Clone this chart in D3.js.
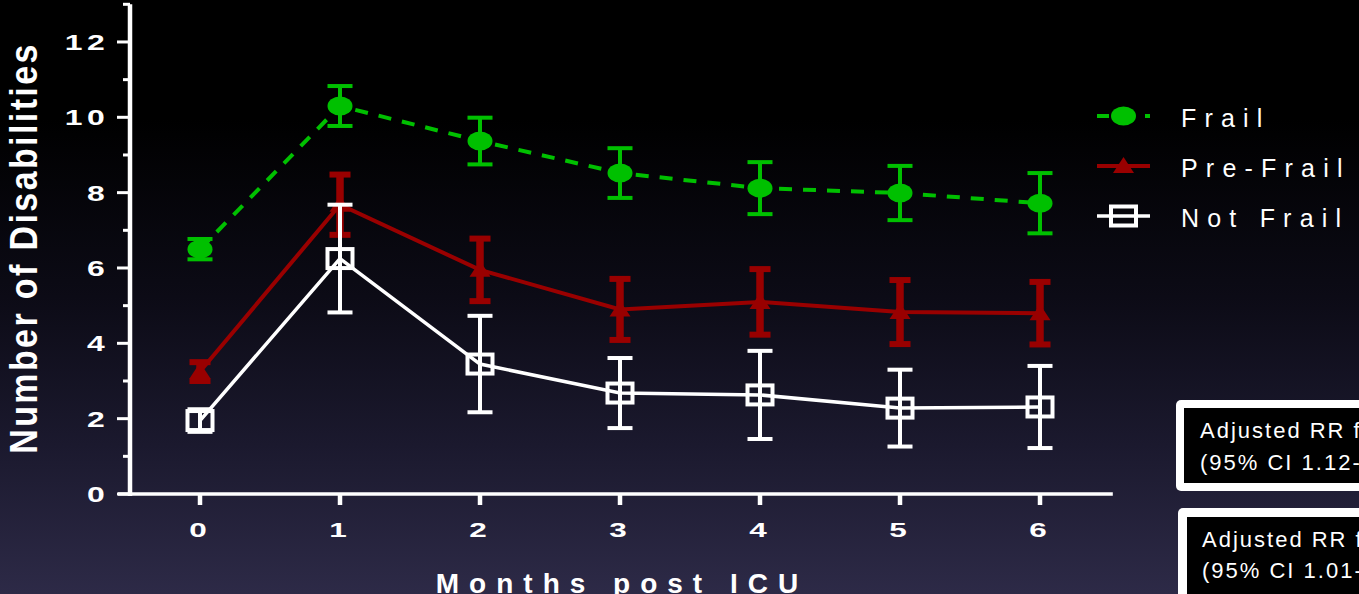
<!DOCTYPE html>
<html>
<head>
<meta charset="utf-8">
<script src="https://cdn.jsdelivr.net/npm/d3@7"></script>
<style>
  html, body { margin: 0; padding: 0; overflow: hidden; background: #000; }
  text { font-family: "Liberation Sans", Arial, sans-serif; }
</style>
</head>
<body>
<div id="chart"></div>
<script>
const months = [0, 1, 2, 3, 4, 5, 6];
const frailMean = [6.5, 10.3, 9.37, 8.52, 8.12, 7.99, 7.72];
const frailErr = [0.27, 0.53, 0.62, 0.66, 0.69, 0.72, 0.8];
const preFrailMean = [3.25, 7.68, 5.95, 4.9, 5.1, 4.83, 4.8];
const preFrailErr = [0.25, 0.8, 0.83, 0.81, 0.87, 0.85, 0.83];
const notFrailMean = [1.95, 6.25, 3.45, 2.68, 2.63, 2.28, 2.31];
const notFrailErr = [0.3, 1.43, 1.28, 0.93, 1.17, 1.02, 1.09];
const yTicks = [0, 2, 4, 6, 8, 10, 12];
const yMinorTicks = [1, 3, 5, 7, 9, 11, 13];
const legendLabels = ['Frail', 'Pre-Frail', 'Not Frail'];
const boxTexts = [
  ['Adjusted RR for', '(95% CI 1.12-'],
  ['Adjusted RR for', '(95% CI 1.01-']
];

const width = 1359, height = 594;
const svg = d3.select('#chart').append('svg')
  .attr('width', width).attr('height', height);

// background gradient
const grad = svg.append('defs').append('linearGradient')
  .attr('id', 'bg').attr('x1', 0).attr('y1', 0).attr('x2', 0).attr('y2', 1);
[[0, '#000000'], [0.2, '#000000'], [0.5, '#0c0b16'], [0.75, '#1b192e'], [1, '#2d2a47']]
  .forEach(([o, c]) => grad.append('stop').attr('offset', o).attr('stop-color', c));
svg.append('rect').attr('width', width).attr('height', height).attr('fill', 'url(#bg)');

const x = d3.scaleLinear().domain([0, 6]).range([200, 1040]);
const y = d3.scaleLinear().domain([0, 13]).range([494, 4.3]);

// axes
const axisG = svg.append('g').attr('stroke', '#fff');
axisG.append('line').attr('x1', 130).attr('x2', 130).attr('y1', y(13)).attr('y2', y(0) + 2)
  .attr('stroke-width', 4.5);
axisG.append('line').attr('x1', 118).attr('x2', x(6.52)).attr('y1', y(0)).attr('y2', y(0))
  .attr('stroke-width', 3.5);
axisG.selectAll('.ymaj').data(yTicks).join('line')
  .attr('x1', 117).attr('x2', 130).attr('y1', (d) => y(d)).attr('y2', (d) => y(d))
  .attr('stroke-width', 3);
axisG.selectAll('.ymin').data(yMinorTicks).join('line')
  .attr('x1', 123).attr('x2', 130).attr('y1', (d) => y(d)).attr('y2', (d) => y(d))
  .attr('stroke-width', 3);
axisG.selectAll('.xt').data(months).join('line')
  .attr('x1', (d) => x(d)).attr('x2', (d) => x(d)).attr('y1', y(0)).attr('y2', y(0) + 11)
  .attr('stroke-width', 4.5);

svg.selectAll('.ylab').data(yTicks).join('text')
  .attr('transform', (d) => `translate(109,${y(d) + 8}) scale(1.45,1)`)
  .attr('text-anchor', 'end').attr('fill', '#fff').attr('font-weight', 'bold')
  .attr('font-size', 22).attr('letter-spacing', 3)
  .text((d) => d);

svg.selectAll('.xlab').data(months).join('text')
  .attr('transform', (d) => `translate(${x(d) - 2},${537}) scale(1.5,1)`)
  .attr('text-anchor', 'middle').attr('fill', '#fff').attr('font-weight', 'bold')
  .attr('font-size', 21)
  .text((d) => d);

svg.append('text')
  .attr('transform', `translate(37,${248}) scale(1.15,1) rotate(-90)`)
  .attr('text-anchor', 'middle').attr('fill', '#fff').attr('font-weight', 'bold')
  .attr('font-size', 34).attr('letter-spacing', 2.4)
  .text('Number of Disabilities');

svg.append('text')
  .attr('x', 622).attr('y', 593)
  .attr('text-anchor', 'middle').attr('fill', '#fff').attr('font-weight', 'bold')
  .attr('font-size', 28).attr('letter-spacing', 10)
  .text('Months post ICU');

// series
const series = [
  { mean: frailMean, err: frailErr, color: '#00c000', dash: '13 11', lw: 4, ew: 4, cw: 25, ch: 4, marker: 'circle' },
  { mean: preFrailMean, err: preFrailErr, color: '#990000', dash: null, lw: 4, ew: 7.5, cw: 21, ch: 6, marker: 'triangle' },
  { mean: notFrailMean, err: notFrailErr, color: '#ffffff', dash: null, lw: 3.5, ew: 4, cw: 25, ch: 4, marker: 'square' }
];

function drawMarker(g, type, color, cx, cy) {
  if (type === 'circle') {
    g.append('ellipse').attr('cx', cx).attr('cy', cy).attr('rx', 12.5).attr('ry', 9.5).attr('fill', color);
  } else if (type === 'triangle') {
    g.append('path').attr('d', `M${cx - 10.5},${cy + 7}L${cx + 10.5},${cy + 7}L${cx},${cy - 9}Z`).attr('fill', color);
  } else {
    g.append('rect').attr('x', cx - 12.5).attr('y', cy - 9.5).attr('width', 25).attr('height', 19)
      .attr('fill', 'none').attr('stroke', color).attr('stroke-width', 4);
  }
}

const line = d3.line().x((d, i) => x(months[i])).y((d) => y(d));

series.forEach((s) => {
  const g = svg.append('g');
  g.append('path').datum(s.mean).attr('d', line)
    .attr('fill', 'none').attr('stroke', s.color).attr('stroke-width', s.lw)
    .attr('stroke-dasharray', s.dash);
  s.mean.forEach((m, i) => {
    const cx = x(months[i]);
    const top = y(m + s.err[i]), bot = y(m - s.err[i]);
    g.append('line').attr('x1', cx).attr('x2', cx).attr('y1', top).attr('y2', bot)
      .attr('stroke', s.color).attr('stroke-width', s.ew);
    [top, bot].forEach((yy) => {
      g.append('rect').attr('x', cx - s.cw / 2).attr('width', s.cw)
        .attr('y', yy - s.ch / 2).attr('height', s.ch).attr('fill', s.color);
    });
    drawMarker(g, s.marker, s.color, cx, y(m));
  });
});

// legend
series.forEach((s, i) => {
  const ly = 116 + i * 50;
  const g = svg.append('g');
  g.append('line').attr('x1', 1097).attr('x2', 1150).attr('y1', ly).attr('y2', ly)
    .attr('stroke', s.color).attr('stroke-width', s.lw)
    .attr('stroke-dasharray', s.dash ? '12 36 12' : null);
  drawMarker(g, s.marker, s.color, 1123.5, ly);
  g.append('text').attr('x', 1181).attr('y', ly + 11).attr('fill', '#fff')
    .attr('font-size', 25).attr('letter-spacing', 8.2).text(legendLabels[i]);
});

// annotation boxes
const boxes = [
  { x: 1176, y: 400, h: 91, ix: 1184, iy: 408, ih: 75, tx: 1200, ty: [438, 470] },
  { x: 1178, y: 508, h: 120, ix: 1187, iy: 517, ih: 110, tx: 1202, ty: [547, 578] }
];
boxes.forEach((b, i) => {
  svg.append('rect').attr('x', b.x).attr('y', b.y).attr('width', 260).attr('height', b.h)
    .attr('rx', 5).attr('fill', '#fff');
  svg.append('rect').attr('x', b.ix).attr('y', b.iy).attr('width', 250).attr('height', b.ih)
    .attr('fill', '#000');
  boxTexts[i].forEach((t, j) => {
    svg.append('text').attr('x', b.tx).attr('y', b.ty[j]).attr('fill', '#fff')
      .attr('font-size', 22).attr('letter-spacing', 2).text(t);
  });
});
</script>
</body>
</html>
